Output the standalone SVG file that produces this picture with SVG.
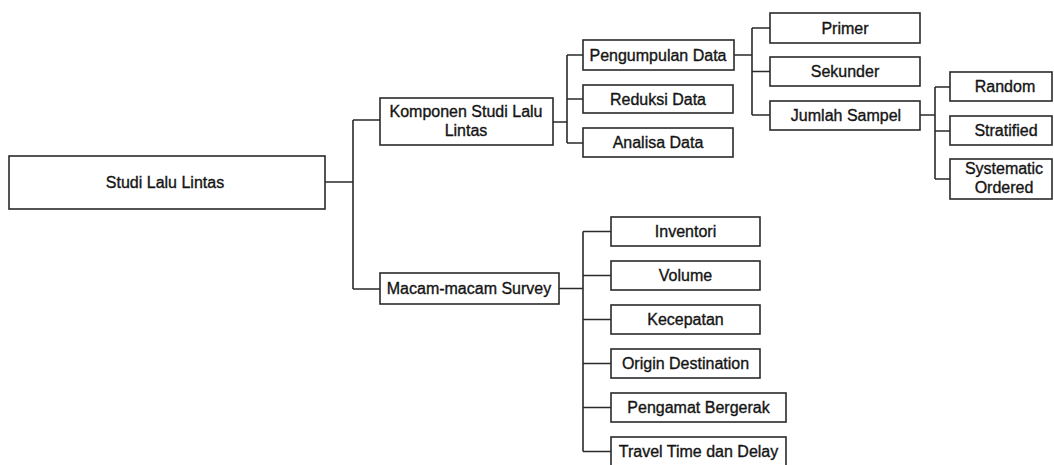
<svg xmlns="http://www.w3.org/2000/svg" width="1054" height="465" viewBox="0 0 1054 465">
<style>
.b{fill:#fff;stroke:#2a2a2a;stroke-width:1.6}
.t{font-family:"Liberation Sans",Arial,sans-serif;font-size:16px;fill:#151515;stroke:#151515;stroke-width:0.35;text-anchor:middle}
.c{fill:none;stroke:#2a2a2a;stroke-width:1.6}
</style>
<rect width="1054" height="465" fill="#fff"/>
<g id="connectors" class="c">
<path d="M325 182H353M353 120V289M353 120H380M353 289H380"/>
<path d="M553 122H567M567 55V143M567 55H583M567 99H583M567 143H583"/>
<path d="M734 55H752M752 28V115M752 28H770M752 71.5H770M752 115H770"/>
<path d="M920 115H935M935 87V179M935 87H950M935 131H950M935 179H950"/>
<path d="M559 288.5H583M583 231.5V451.5M583 231.5H611M583 275.5H611M583 319.5H611M583 363.5H611M583 407.5H611M583 451.5H611"/>
</g>
<g id="studi"><rect class="b" x="9" y="156" width="316" height="53"/><text class="t" x="165" y="188">Studi Lalu Lintas</text></g>
<g id="komponen"><rect class="b" x="380" y="98" width="173" height="47"/><text class="t" x="466" y="117">Komponen Studi Lalu</text><text class="t" x="466" y="136">Lintas</text></g>
<g id="pengumpulan"><rect class="b" x="583" y="40" width="151" height="30"/><text class="t" x="658" y="60.5">Pengumpulan Data</text></g>
<g id="reduksi"><rect class="b" x="583" y="85" width="150" height="28"/><text class="t" x="658" y="104.5">Reduksi Data</text></g>
<g id="analisa"><rect class="b" x="583" y="128" width="150" height="29"/><text class="t" x="658" y="148">Analisa Data</text></g>
<g id="primer"><rect class="b" x="770" y="13" width="150" height="30"/><text class="t" x="845" y="33.5">Primer</text></g>
<g id="sekunder"><rect class="b" x="770" y="57" width="150" height="29"/><text class="t" x="845" y="77">Sekunder</text></g>
<g id="jumlah"><rect class="b" x="770" y="101" width="150" height="29"/><text class="t" x="846" y="121">Jumlah Sampel</text></g>
<g id="random"><rect class="b" x="950" y="72" width="102" height="29"/><text class="t" x="1005" y="92">Random</text></g>
<g id="stratified"><rect class="b" x="950" y="116" width="102" height="29"/><text class="t" x="1006" y="136">Stratified</text></g>
<g id="systematic"><rect class="b" x="950" y="159" width="102" height="40"/><text class="t" x="1004" y="174">Systematic</text><text class="t" x="1004" y="193">Ordered</text></g>
<g id="macam"><rect class="b" x="380" y="273" width="179" height="31"/><text class="t" x="469" y="294">Macam-macam Survey</text></g>
<g id="inventori"><rect class="b" x="611" y="217" width="149" height="29"/><text class="t" x="685.5" y="237">Inventori</text></g>
<g id="volume"><rect class="b" x="611" y="261" width="149" height="29"/><text class="t" x="685.5" y="281">Volume</text></g>
<g id="kecepatan"><rect class="b" x="611" y="305" width="149" height="29"/><text class="t" x="685.5" y="325">Kecepatan</text></g>
<g id="origin"><rect class="b" x="611" y="349" width="149" height="29"/><text class="t" x="685.5" y="369">Origin Destination</text></g>
<g id="pengamat"><rect class="b" x="611" y="393" width="175" height="29"/><text class="t" x="698.5" y="413">Pengamat Bergerak</text></g>
<g id="travel"><rect class="b" x="611" y="437" width="175" height="29"/><text class="t" x="698.5" y="457">Travel Time dan Delay</text></g>
</svg>
